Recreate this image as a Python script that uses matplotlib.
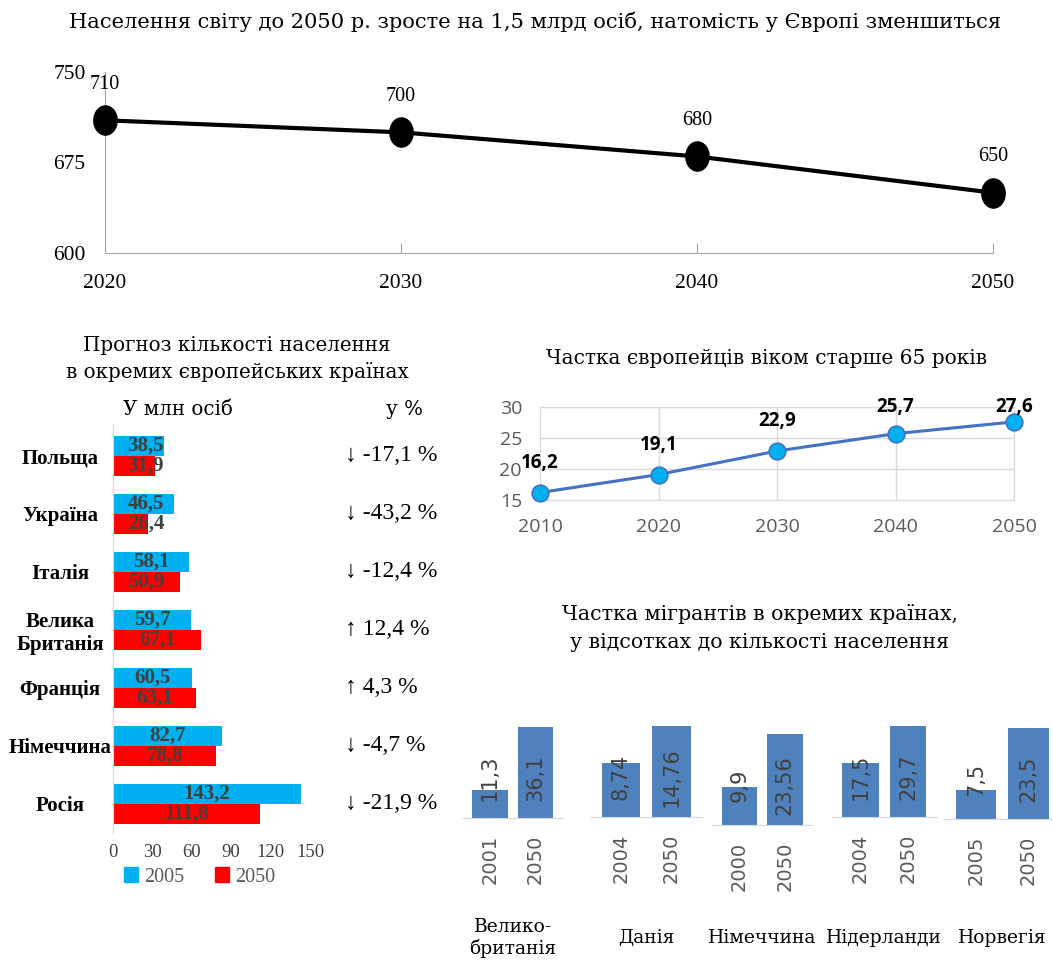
import numpy as np
import matplotlib
matplotlib.use('Agg')
import matplotlib.pyplot as plt
from matplotlib.path import Path
from matplotlib.patches import Patch
from matplotlib.transforms import blended_transform_factory as blend

# --- data ---
years_top = [2020, 2030, 2040, 2050]
pop_europe = [710, 700, 680, 650]

countries = ['Польща', 'Україна', 'Італія', 'Велика\nБританія', 'Франція', 'Німеччина', 'Росія']
pop_2005 = [38.5, 46.5, 58.1, 59.7, 60.5, 82.7, 143.2]
pop_2050 = [31.9, 26.4, 50.9, 67.1, 63.1, 78.8, 111.8]
pct_change = [-17.1, -43.2, -12.4, 12.4, 4.3, -4.7, -21.9]

years_old = [2010, 2020, 2030, 2040, 2050]
share_old = [16.2, 19.1, 22.9, 25.7, 27.6]

mig_countries = ['Велико-\nбританія', 'Данія', 'Німеччина', 'Нідерланди', 'Норвегія']
mig_years = [['2001', '2050'], ['2004', '2050'], ['2000', '2050'], ['2004', '2050'], ['2005', '2050']]
mig_values = [[11.3, 36.1], [8.74, 14.76], [9.9, 23.56], [17.5, 29.7], [7.5, 23.5]]

W, H = 1053, 960
SERIF = ['DejaVu Serif']
TIMES = ['Liberation Serif', 'DejaVu Serif']
SANS = ['Open Sans', 'DejaVu Sans']


def box(l, t, r, b):
    return [l / W, 1 - b / H, (r - l) / W, (b - t) / H]


def comma(v):
    return str(v).replace('.', ',')


fig = plt.figure(figsize=(W / 100, H / 100), dpi=100)

# --- top: line chart ---
fig.text(535 / W, 1 - 22 / H,
         'Населення світу до 2050 р. зросте на 1,5 млрд осіб, натомість у Європі зменшиться',
         ha='center', va='center', fontsize=15.1, family=SERIF)

ax1 = fig.add_axes(box(105, 72, 993, 253))
ell = Path.unit_circle().transformed(matplotlib.transforms.Affine2D().scale(0.8, 1.0))
ax1.plot(years_top, pop_europe, color='black', lw=3, marker=ell, ms=21,
         mfc='black', mec='black', clip_on=False, zorder=3)
for x, v in zip(years_top, pop_europe):
    ax1.annotate(str(v), (x, v), xytext=(0, 26), textcoords='offset points',
                 ha='center', va='center', fontsize=14.5, family=TIMES)
ax1.set_xlim(2020, 2050)
ax1.set_ylim(600, 750)
ax1.set_xticks(years_top)
ax1.set_yticks([600, 675, 750])
for s in ['top', 'right']:
    ax1.spines[s].set_visible(False)
for s in ['left', 'bottom']:
    ax1.spines[s].set_color('#a6a6a6')
ax1.tick_params(axis='x', direction='in', length=7, color='#a6a6a6', pad=15, labelsize=15.5)
ax1.tick_params(axis='y', length=0, pad=14, labelsize=15.5)
for lab in ax1.get_xticklabels() + ax1.get_yticklabels():
    lab.set_family(TIMES)

# --- left: horizontal bars ---
fig.text(237 / W, 1 - 359 / H, 'Прогноз кількості населення\nв окремих європейських країнах',
         ha='center', va='center', fontsize=14.3, family=SERIF, linespacing=1.4)
fig.text(178 / W, 1 - 410 / H, 'У млн осіб', ha='center', va='center', fontsize=14.3, family=SERIF)
fig.text(405 / W, 1 - 410 / H, 'у %', ha='center', va='center', fontsize=14.3, family=SERIF)

ax2 = fig.add_axes(box(113, 424, 310, 833))
y = np.arange(len(countries))
off = 0.172
ax2.barh(y - off, pop_2005, height=0.345, color='#00B0F0')
ax2.barh(y + off, pop_2050, height=0.345, color='#FF0000')
for i in range(len(countries)):
    for v, dy in [(pop_2005[i], -off), (pop_2050[i], off)]:
        ax2.text(max(v / 2, 25), i + dy, comma(v), ha='center', va='center',
                 fontsize=15, fontweight='bold', color='#404040', family=TIMES)
ax2.set_xlim(0, 150)
ax2.set_ylim(6.5, -0.55)
ax2.set_xticks(np.arange(0, 151, 30))
ax2.set_yticks(y)
ax2.set_yticklabels(countries, fontweight='bold', fontsize=15, family=TIMES, ha='center')
for s in ['top', 'right', 'bottom']:
    ax2.spines[s].set_visible(False)
ax2.spines['left'].set_color('#d9d9d9')
ax2.tick_params(axis='x', length=0, pad=8, labelsize=13.5, labelcolor='#404040')
ax2.tick_params(axis='y', length=0, pad=38)
for lab in ax2.get_xticklabels():
    lab.set_family(TIMES)

tr = blend(fig.transFigure, ax2.transData)
for i, p in enumerate(pct_change):
    arrow = '↑' if p > 0 else '↓'
    ax2.text(345 / W, i, f'{arrow} {comma(p)} %', transform=tr, ha='left', va='center',
             fontsize=17, family=TIMES)

fig.legend([Patch(color='#00B0F0'), Patch(color='#FF0000')], ['2005', '2050'],
           loc='center left', bbox_to_anchor=(114 / W, 1 - 877 / H), ncol=2, frameon=False,
           handlelength=0.7, handleheight=0.7, handletextpad=0.3, columnspacing=1.5,
           borderpad=0, labelcolor='#595959', prop={'family': TIMES, 'size': 14.5})

# --- right top: share 65+ ---
fig.text(767 / W, 1 - 358 / H, 'Частка європейців віком старше 65 років',
         ha='center', va='center', fontsize=14.5, family=SERIF)
ax3 = fig.add_axes(box(540, 407, 1014, 500))
ax3.plot(years_old, share_old, color='#4472C4', lw=2.2, marker='o', ms=12,
         mfc='#00B0F0', mec='#4472C4', mew=1.2, clip_on=False, zorder=3)
for x, v in zip(years_old, share_old):
    ax3.text(x, min(v + 4.8, 30), comma(v), ha='center', va='center', fontsize=13.5,
             fontweight='bold', family=SANS)
ax3.set_xlim(2010, 2050)
ax3.set_ylim(15, 30)
ax3.set_xticks(years_old)
ax3.set_yticks([15, 20, 25, 30])
ax3.grid(color='#d9d9d9', lw=1)
for s in ax3.spines.values():
    s.set_color('#d9d9d9')
ax3.tick_params(length=0, labelsize=14, labelcolor='#595959', pad=13)
for lab in ax3.get_xticklabels() + ax3.get_yticklabels():
    lab.set_family(SANS)

# --- right bottom: migrants ---
fig.text(760 / W, 1 - 628 / H, 'Частка мігрантів в окремих країнах,\nу відсотках до кількості населення',
         ha='center', va='center', fontsize=14.8, family=SERIF, linespacing=1.55)
bar_c0 = [490, 621, 739.5, 860.5, 976]
bar_gap = [45.5, 50.5, 45.5, 47.5, 52.5]
base_y = [818, 817, 825, 817, 819]
for k in range(len(mig_countries)):
    c0, g, b = bar_c0[k], bar_gap[k], base_y[k]
    ax = fig.add_axes(box(c0 - 0.6 * g, b - 95, c0 + 1.6 * g, b))
    vals = mig_values[k]
    ax.bar([0, 1], vals, width=0.77, color='#4F81BD')
    ax.set_xlim(-0.6, 1.6)
    ax.set_ylim(0, max(vals) * 1.045)
    ax.set_xticks([0, 1])
    ax.set_xticklabels(mig_years[k], rotation=90, fontsize=14, color='#595959', va='top')
    ax.set_yticks([])
    for s in ['top', 'right', 'left']:
        ax.spines[s].set_visible(False)
    ax.spines['bottom'].set_color('#d9d9d9')
    ax.tick_params(axis='x', length=0, pad=12)
    ax.patch.set_alpha(0)
    trb = blend(ax.transData, ax.transAxes)
    for i, v in enumerate(vals):
        ax.text(i, 0.42, comma(v), transform=trb, rotation=90, ha='center', va='center',
                fontsize=15, color='#404040', clip_on=False)
    ax.text(0.5, 1 - 938 / H, mig_countries[k], transform=blend(ax.transAxes, fig.transFigure),
            ha='center', va='center', fontsize=13.5, family=SERIF, linespacing=1.2)

fig.savefig('out.png', dpi=100)
